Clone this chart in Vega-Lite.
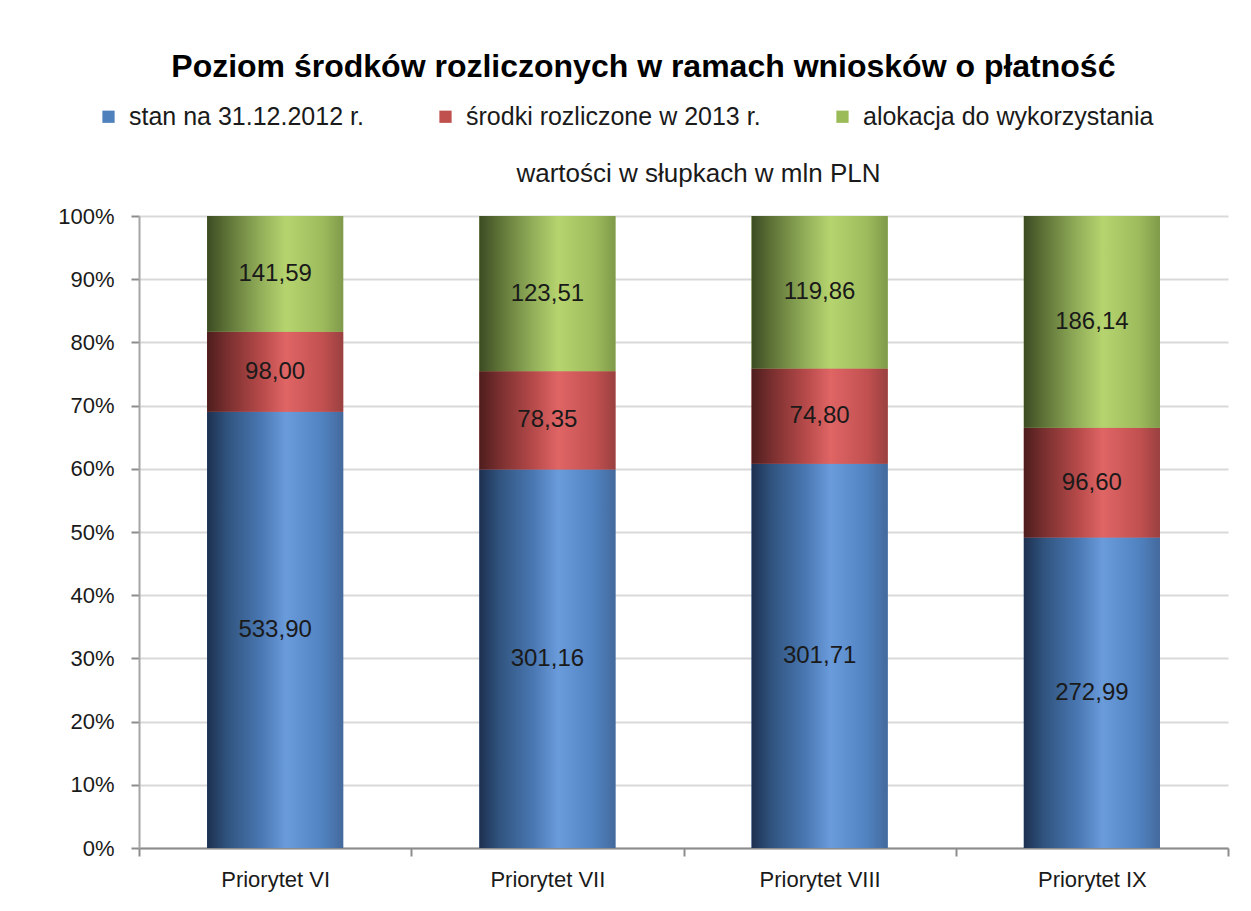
{
  "$schema": "https://vega.github.io/schema/vega-lite/v6.json",
  "autosize": {"type": "none"},
  "width": 1089,
  "height": 632,
  "padding": {"left": 139, "top": 216, "right": 23, "bottom": 63},
  "background": "white",
  "title": {
    "text": "Poziom środków rozliczonych w ramach wniosków o płatność",
    "anchor": "middle",
    "frame": "bounds",
    "fontSize": 32,
    "fontWeight": "bold",
    "font": "Liberation Sans",
    "color": "#000000",
    "offset": 20
  },
  "config": {
    "font": "Liberation Sans",
    "view": {"stroke": null},
    "locale": {"number": {"decimal": ",", "thousands": " ", "grouping": [3], "currency": ["", " zł"]}}
  },
  "data": {
    "values": [
      {"kat": "Priorytet VI", "seria": "stan na 31.12.2012 r.", "kolejnosc": 1, "wartosc": 533.90},
      {"kat": "Priorytet VI", "seria": "środki rozliczone w 2013 r.", "kolejnosc": 2, "wartosc": 98.00},
      {"kat": "Priorytet VI", "seria": "alokacja do wykorzystania", "kolejnosc": 3, "wartosc": 141.59},
      {"kat": "Priorytet VII", "seria": "stan na 31.12.2012 r.", "kolejnosc": 1, "wartosc": 301.16},
      {"kat": "Priorytet VII", "seria": "środki rozliczone w 2013 r.", "kolejnosc": 2, "wartosc": 78.35},
      {"kat": "Priorytet VII", "seria": "alokacja do wykorzystania", "kolejnosc": 3, "wartosc": 123.51},
      {"kat": "Priorytet VIII", "seria": "stan na 31.12.2012 r.", "kolejnosc": 1, "wartosc": 301.71},
      {"kat": "Priorytet VIII", "seria": "środki rozliczone w 2013 r.", "kolejnosc": 2, "wartosc": 74.80},
      {"kat": "Priorytet VIII", "seria": "alokacja do wykorzystania", "kolejnosc": 3, "wartosc": 119.86},
      {"kat": "Priorytet IX", "seria": "stan na 31.12.2012 r.", "kolejnosc": 1, "wartosc": 272.99},
      {"kat": "Priorytet IX", "seria": "środki rozliczone w 2013 r.", "kolejnosc": 2, "wartosc": 96.60},
      {"kat": "Priorytet IX", "seria": "alokacja do wykorzystania", "kolejnosc": 3, "wartosc": 186.14}
    ]
  },
  "transform": [
    {"stack": "wartosc", "groupby": ["kat"], "sort": [{"field": "kolejnosc", "order": "ascending"}], "offset": "normalize", "as": ["y0", "y1"]}
  ],
  "encoding": {
    "y": {"field": "y0", "type": "quantitative", "scale": {"domain": [0, 1]},
      "axis": {"title": null, "format": ".0%", "values": [0, 0.1, 0.2, 0.3, 0.4, 0.5, 0.6, 0.7, 0.8, 0.9, 1],
        "labelFontSize": 22, "labelColor": "#1a1a1a", "labelPadding": 17, "tickSize": 8, "tickColor": "#8c8c8c", "tickWidth": 2,
        "domainColor": "#a6a6a6", "domainWidth": 2, "grid": true, "gridColor": "#d9d9d9", "gridWidth": 2}},
    "y2": {"field": "y1"}
  },
  "layer": [
    {
      "mark": {"type": "bar", "width": {"band": 0.5}},
      "encoding": {
        "x": {"field": "kat", "type": "nominal", "sort": null, "scale": {"paddingInner": 0, "paddingOuter": 0},
          "axis": {"orient": "top", "title": "wartości w słupkach w mln PLN", "titleFontSize": 26, "titleFontWeight": "normal", "titleColor": "#1a1a1a", "titlePadding": 30, "titleX": 559, "titleAlign": "center", "labels": false, "ticks": false, "domain": false, "grid": false}},
        "color": {"field": "seria", "type": "nominal",
          "scale": {"domain": ["stan na 31.12.2012 r.", "środki rozliczone w 2013 r.", "alokacja do wykorzystania"], "range": ["#4f81bd", "#c0504d", "#9bbb59"]},
          "legend": {"orient": "none", "legendX": -43, "legendY": -112, "direction": "horizontal", "title": null,
            "symbolType": "square", "symbolSize": 150, "symbolStrokeWidth": 0, "labelFontSize": 25, "labelColor": "#1a1a1a",
            "columnPadding": 69, "labelOffset": 8, "labelLimit": 500}}
      }
    },
    {
      "transform": [{"filter": "datum.kolejnosc == 1"}],
      "mark": {"type": "bar", "width": {"band": 0.5}, "color": {"x1": 0, "y1": 0, "x2": 1, "y2": 0, "gradient": "linear", "stops": [
        {"offset": 0, "color": "#1d3050"}, {"offset": 0.15, "color": "#30547f"}, {"offset": 0.4, "color": "#4a78b3"},
        {"offset": 0.58, "color": "#6a9bdb"}, {"offset": 0.85, "color": "#5082c0"}, {"offset": 1, "color": "#44699c"}]}},
      "encoding": {
        "x": {"field": "kat", "type": "nominal", "sort": null,
          "axis": {"orient": "bottom", "title": null, "labelAngle": 0, "labelFontSize": 22, "labelColor": "#1a1a1a", "labelPadding": 13,
            "tickBand": "extent", "tickSize": 8, "tickColor": "#8c8c8c", "tickWidth": 2, "domainColor": "#8c8c8c", "domainWidth": 2, "grid": false}}
      }
    },
    {
      "transform": [{"filter": "datum.kolejnosc == 2"}],
      "mark": {"type": "bar", "width": {"band": 0.5}, "color": {"x1": 0, "y1": 0, "x2": 1, "y2": 0, "gradient": "linear", "stops": [
        {"offset": 0, "color": "#4e1d1d"}, {"offset": 0.15, "color": "#7a2f2f"}, {"offset": 0.4, "color": "#b74a4a"},
        {"offset": 0.58, "color": "#e06565"}, {"offset": 0.85, "color": "#c25050"}, {"offset": 1, "color": "#9a4040"}]}},
      "encoding": {
        "x": {"field": "kat", "type": "nominal", "sort": null, "axis": null}
      }
    },
    {
      "transform": [{"filter": "datum.kolejnosc == 3"}],
      "mark": {"type": "bar", "width": {"band": 0.5}, "color": {"x1": 0, "y1": 0, "x2": 1, "y2": 0, "gradient": "linear", "stops": [
        {"offset": 0, "color": "#3c4c23"}, {"offset": 0.15, "color": "#5e7337"}, {"offset": 0.4, "color": "#93b05a"},
        {"offset": 0.58, "color": "#b6d46e"}, {"offset": 0.85, "color": "#9dbb5c"}, {"offset": 1, "color": "#7f9a4a"}]}},
      "encoding": {
        "x": {"field": "kat", "type": "nominal", "sort": null, "axis": null}
      }
    },
    {
      "transform": [
        {"fold": ["y0", "y1"], "as": ["granica", "poz"]},
        {"aggregate": [{"op": "mean", "field": "poz", "as": "ysrodek"}, {"op": "max", "field": "wartosc", "as": "wartosc"}], "groupby": ["kat", "seria"]}
      ],
      "mark": {"type": "text", "fontSize": 24, "color": "#1a1a1a", "baseline": "middle", "align": "center"},
      "encoding": {
        "x": {"field": "kat", "type": "nominal", "sort": null, "axis": null},
        "y": {"field": "ysrodek", "type": "quantitative"},
        "y2": null,
        "text": {"field": "wartosc", "type": "quantitative", "format": ".2f"}
      }
    }
  ]
}
